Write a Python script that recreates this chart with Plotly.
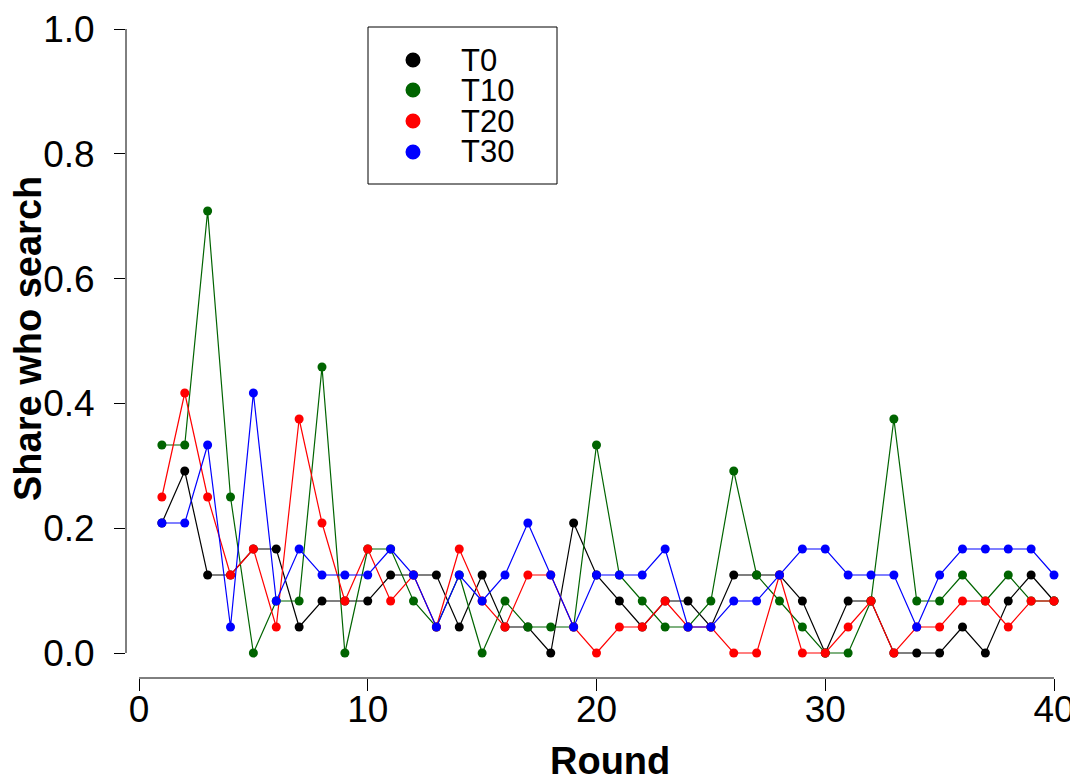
import plotly.graph_objects as go

# ---- data (shares, read as k/24) ----
rounds = list(range(1, 41))
t0_k  = [5,7,3,3,4,4,1,2,2,2, 3,3,3,1,3,1,1,0,5,3, 2,1,2,2,1,3,3,3,2,0, 2,2,0,0,0,1,0,2,3,2]
t10_k = [8,8,17,6,0,2,2,11,0,4, 4,2,1,3,0,2,1,1,1,8, 3,2,1,1,2,7,3,2,1,0, 0,2,9,2,2,3,2,3,2,2]
t20_k = [6,10,6,3,4,1,9,5,2,4, 2,3,1,4,2,1,3,3,1,0, 1,1,2,1,1,0,0,3,0,0, 1,2,0,1,1,2,2,1,2,2]
t30_k = [5,5,8,1,10,2,4,3,3,3, 4,3,1,3,2,3,5,3,1,3, 3,3,4,1,1,2,2,3,4,4, 3,3,3,1,3,4,4,4,4,3]
group_size = 24
series_names = ["T0", "T10", "T20", "T30"]
series_colors = ["#000000", "#006400", "#ff0000", "#0000ff"]
x_ticks = [0, 10, 20, 30, 40]
y_ticks = [0.0, 0.2, 0.4, 0.6, 0.8, 1.0]

series = [[k / group_size for k in s] for s in (t0_k, t10_k, t20_k, t30_k)]

W, H = 1078, 780
OFF = 8  # page body margin: screenshot px = figure px + OFF

def f(p):  # screenshot pixel -> figure pixel
    return p - OFF

ML = f(126)
MT = f(20)
MB = H - f(678)
MR = W - f(1070)
PW, PH = W - ML - MR, H - MT - MB

def px_x(p):  # screenshot pixel -> paper x
    return (f(p) - ML) / PW

def px_y(p):  # screenshot pixel -> paper y
    return (H - MB - f(p)) / PH

FONT = "Liberation Sans, Arial, Helvetica, sans-serif"

fig = go.Figure()
for name, col, vals in zip(series_names, series_colors, series):
    fig.add_trace(go.Scatter(
        x=rounds, y=vals, mode="lines+markers", name=name,
        line=dict(color=col, width=1.2),
        marker=dict(color=col, size=9),
        showlegend=False,
    ))

# x range such that 0 -> px 139, 40 -> px 1054 (screenshot)
xppu = (1054 - 139) / 40
x_lo = -(139 - 126) / xppu
x_hi = 40 + (1070 - 1054) / xppu
yppu = 653 - 29
y_lo = -(678 - 653) / yppu
y_hi = 1 + (29 - 20) / yppu

fig.update_layout(
    width=W, height=H,
    margin=dict(l=ML, r=MR, t=MT, b=MB, pad=0),
    paper_bgcolor="white", plot_bgcolor="white",
    font=dict(family=FONT, color="black"),
    xaxis=dict(range=[x_lo, x_hi], tickvals=x_ticks, ticks="outside", ticklen=12,
               tickwidth=1, tickcolor="black", showgrid=False, zeroline=False,
               showline=False, tickfont=dict(size=37), ticklabelstandoff=-13,
               automargin=False),
    yaxis=dict(range=[y_lo, y_hi], tickvals=y_ticks, tickformat=".1f", ticks="outside",
               ticklen=11, tickwidth=1, tickcolor="black", showgrid=False,
               zeroline=False, showline=False, tickfont=dict(size=37),
               ticklabelstandoff=12, automargin=False),
)

# R-style detached axis lines
fig.add_shape(type="line", xref="x", yref="paper", x0=x_ticks[0], x1=x_ticks[-1],
              y0=0, y1=0, line=dict(color="black", width=1))
fig.add_shape(type="line", xref="paper", yref="y", x0=0, x1=0,
              y0=y_ticks[0], y1=y_ticks[-1], line=dict(color="black", width=1))

# axis titles
fig.add_annotation(text="<b>Round</b>", xref="paper", yref="paper",
                   x=px_x(610), y=px_y(761), showarrow=False,
                   xanchor="center", yanchor="middle", font=dict(size=38))
fig.add_annotation(text="<b>Share who search</b>", xref="paper", yref="paper",
                   x=px_x(28), y=px_y(339), showarrow=False, textangle=-90,
                   xanchor="center", yanchor="middle", font=dict(size=38))

# legend box
fig.add_shape(type="rect", xref="paper", yref="paper",
              x0=px_x(368), x1=px_x(557), y0=px_y(184), y1=px_y(27),
              line=dict(color="black", width=1), fillcolor="white", layer="above")
rows = [60, 90, 121, 152]
for name, col, ry in zip(series_names, series_colors, rows):
    fig.add_shape(type="circle", xref="paper", yref="paper",
                  xsizemode="pixel", ysizemode="pixel",
                  xanchor=px_x(413), yanchor=px_y(ry),
                  x0=-7.5, x1=7.5, y0=-7.5, y1=7.5,
                  line=dict(width=0), fillcolor=col, layer="above")
    fig.add_annotation(text=name, xref="paper", yref="paper",
                       x=px_x(459), y=px_y(ry), showarrow=False,
                       xanchor="left", yanchor="middle", font=dict(size=31))

fig.write_html("out.html")
